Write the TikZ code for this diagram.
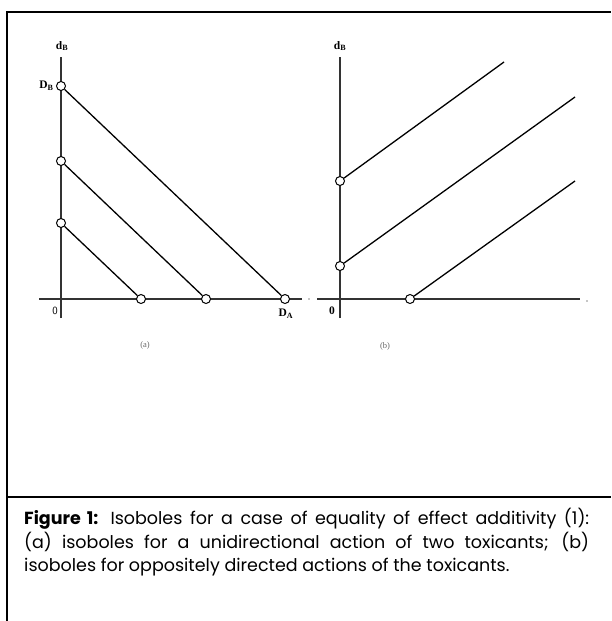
\documentclass[tikz,border=0pt]{standalone}
\usepackage{fontspec}
\newfontfamily\capfont{Poppins}
\newfontfamily\tms{Liberation Serif}
\usetikzlibrary{positioning}
\tikzset{
  axis/.style={line width=1.5pt,draw=black!80},
  iso/.style={line width=1.3pt},
  dot/.style={circle,draw,line width=1pt,fill=white,inner sep=0pt,minimum size=9pt},
  speck/.style={circle,fill=black!45,inner sep=0pt,minimum size=1.6pt},
  lbl/.style={font=\tms\bfseries\fontsize{11.5}{13}\selectfont},
  sub/.style={font=\tms\fontsize{8.5}{10}\selectfont,text=black!60}
}

\begin{document}
\begin{tikzpicture}[x=1pt,y=-1pt]
  \useasboundingbox (0,0) rectangle (611,621);
  % frame
  \draw[line width=2pt] (7,621) -- (7,12) -- (611,12);
  \draw[line width=2pt] (7,497) -- (611,497);

  % (a) unidirectional action
  \coordinate (ya0) at (61,318); \coordinate (ya1) at (61,57);
  \coordinate (xa0) at (39,299); \coordinate (xa1) at (302,299);
  \draw[axis] (ya0)--(ya1);
  \draw[axis] (xa0)--(xa1);
  \node[speck] (sa) at (309,299) {};
  \node[lbl] (dba) at (62,46) {d\textsubscript{B}};
  \node[font=\sffamily\fontsize{11}{12}\selectfont] (za) at (55,311) {0};
  \node[dot] (a1) at (61,86) {};
  \node[dot] (a2) at (61,161) {};
  \node[dot] (a3) at (61,223) {};
  \node[dot] (b1) at (285,299) {};
  \node[dot] (b2) at (206,299) {};
  \node[dot] (b3) at (141,299) {};
  \draw[iso] (a1)--(b1);
  \draw[iso] (a2)--(b2);
  \draw[iso] (a3)--(b3);
  \node[lbl,left=-1pt of a1] (DB) {D\textsubscript{B}};
  \node[lbl] (DA) at (286,314) {D\textsubscript{A}};
  \node[sub] (capa) at (145,345) {(a)};

  % (b) oppositely directed actions
  \coordinate (yb0) at (340,318); \coordinate (yb1) at (340,57);
  \coordinate (xb0) at (317,299); \coordinate (xb1) at (580,299);
  \draw[axis] (yb0)--(yb1);
  \draw[axis] (xb0)--(xb1);
  \node[speck] (sb) at (587,301) {};
  \node[lbl] (dbb) at (340,46) {d\textsubscript{B}};
  \node[lbl] (zb) at (332,311) {0};
  \node[dot] (c1) at (340,181) {};
  \node[dot] (c2) at (340,266) {};
  \node[dot] (c3) at (410,299) {};
  \coordinate (e1) at (504,62);
  \coordinate (e2) at (575,97);
  \coordinate (e3) at (575,181);
  \draw[iso] (c1)--(e1);
  \draw[iso] (c2)--(e2);
  \draw[iso] (c3)--(e3);
  \node[sub] (capb) at (385,346) {(b)};

  % caption
  \node[anchor=north west,inner sep=0pt,text width=565pt,align=justify,
        font=\capfont\fontsize{17.5}{23.5}\selectfont] (cap) at (24,508)
    {\textbf{Figure 1:} Isoboles for a case of equality of effect additivity (1):\linebreak
     (a) isoboles for a unidirectional action of two toxicants; (b)\linebreak
     isoboles for oppositely directed actions of the toxicants.};
\end{tikzpicture}
\end{document}
